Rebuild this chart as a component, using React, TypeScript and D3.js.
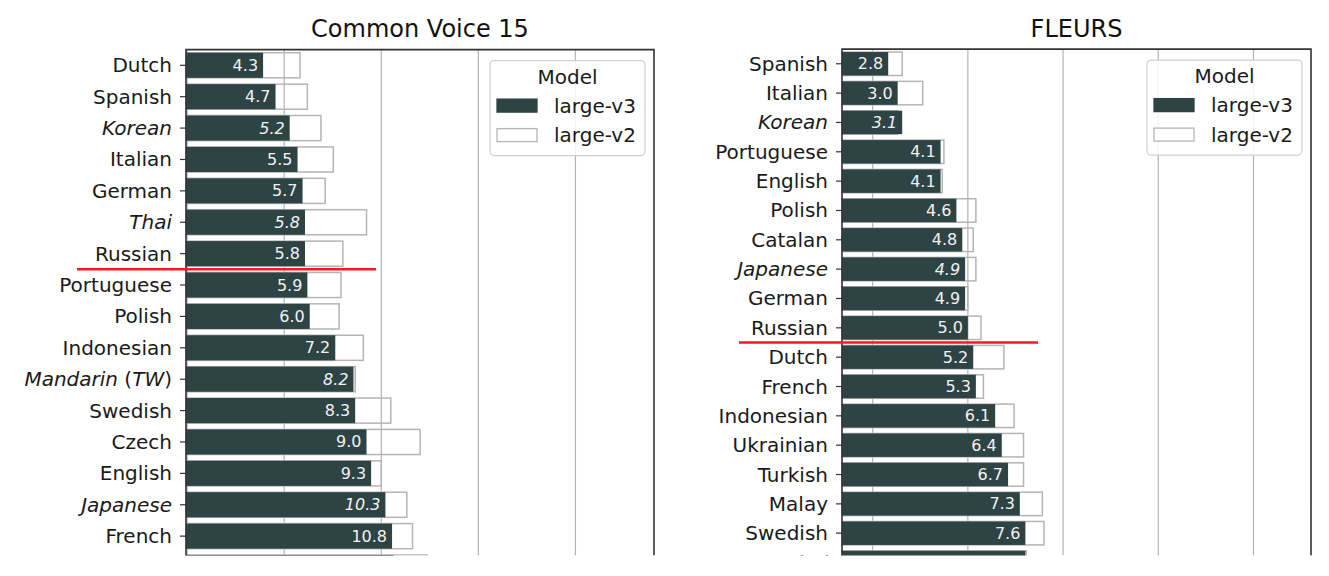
import React from 'react';
import * as d3 from 'd3';

// Common Voice 15 (sorted by large-v3 WER)
const cvLanguages = [
  'Dutch', 'Spanish', 'Korean', 'Italian', 'German', 'Thai', 'Russian', 'Portuguese', 'Polish',
  'Indonesian', 'Mandarin (TW)', 'Swedish', 'Czech', 'English', 'Japanese', 'French', 'Catalan',
];
const cvV3 = [4.3, 4.7, 5.2, 5.5, 5.7, 5.8, 5.8, 5.9, 6.0, 7.2, 8.2, 8.3, 9.0, 9.3, 10.3, 10.8, 10.9];
const cvV2 = [5.6, 5.9, 6.5, 7.1, 6.7, 9.0, 7.6, 7.5, 7.4, 8.8, 8.3, 10.7, 13.2, 10.0, 12.0, 12.5, 13.9];
const cvTicks = [2.5, 5, 10, 20, 40];

// FLEURS
const fleursLanguages = [
  'Spanish', 'Italian', 'Korean', 'Portuguese', 'English', 'Polish', 'Catalan', 'Japanese', 'German',
  'Russian', 'Dutch', 'French', 'Indonesian', 'Ukrainian', 'Turkish', 'Malay', 'Swedish', 'Thai',
];
const fleursV3 = [2.8, 3.0, 3.1, 4.1, 4.1, 4.6, 4.8, 4.9, 4.9, 5.0, 5.2, 5.3, 6.1, 6.4, 6.7, 7.3, 7.6, 7.6];
const fleursV2 = [3.1, 3.6, 3.0, 4.2, 4.15, 5.3, 5.2, 5.3, 5.0, 5.5, 6.5, 5.6, 7.0, 7.5, 7.5, 8.6, 8.7, 7.65];
const fleursTicks = [2.5, 5, 10, 20, 40];

const modelNames = ['large-v3', 'large-v2'];
const italicLangs = ['Korean', 'Thai', 'Japanese', 'Mandarin (TW)'];

const DARK = '#2e4444';
const FONT = '"DejaVu Sans", sans-serif';
const CUT = 555.5; // the figure is cropped here

interface PanelProps {
  title: string;
  langs: string[];
  v3: number[];
  v2: number[];
  ticks: number[];
  xDomain: [number, number];
  left: number;
  right: number;
  top: number;
  step: number;
  cutAfter: number; // red line after this row index
  redFrom: number;
  redTo: number;
}

function LangLabel({ name, x, y }: { name: string; x: number; y: number }) {
  const italic = italicLangs.includes(name);
  if (name === 'Mandarin (TW)') {
    return (
      <text x={x} y={y} textAnchor="end" dominantBaseline="central" fontSize={20} fill="#1a1a1a">
        <tspan fontStyle="italic">Mandarin</tspan>
        <tspan> (</tspan>
        <tspan fontStyle="italic">TW</tspan>
        <tspan>)</tspan>
      </text>
    );
  }
  return (
    <text x={x} y={y} textAnchor="end" dominantBaseline="central" fontSize={20} fill="#1a1a1a"
      fontStyle={italic ? 'italic' : 'normal'}>
      {name}
    </text>
  );
}

function Panel(p: PanelProps) {
  const xScale = d3.scaleLog().domain(p.xDomain).range([p.left, p.right]);
  const yScale = d3
    .scaleBand()
    .domain(p.langs)
    .range([p.top, p.top + p.step * p.langs.length])
    .paddingInner(0.2)
    .paddingOuter(0.1);
  const bw = yScale.bandwidth();
  const x0 = xScale(p.xDomain[0]);
  const redY = (yScale(p.langs[p.cutAfter]) as number) + bw + (yScale.step() - bw) / 2;
  const mid = (l: string) => (yScale(l) as number) + bw / 2;

  const legW = 155;
  const legH = 95;
  const legX = p.right - 9 - legW;
  const legY = p.top + 11;

  return (
    <g>
      <text x={(p.left + p.right) / 2} y={37} textAnchor="middle" fontSize={24} fill="#111">
        {p.title}
      </text>

      {p.ticks.map((t) => (
        <line key={t} x1={xScale(t)} x2={xScale(t)} y1={p.top} y2={CUT} stroke="#b3b3b3" strokeWidth={1.2} />
      ))}

      {p.langs.map((l, i) => (
        <rect key={'v2' + l} x={x0} y={yScale(l) as number} width={xScale(p.v2[i]) - x0} height={bw}
          fill="none" stroke="#b5b5b5" strokeWidth={1.5} />
      ))}
      {p.langs.map((l, i) => (
        <rect key={'v3' + l} x={x0} y={yScale(l) as number} width={xScale(p.v3[i]) - x0} height={bw} fill={DARK} />
      ))}
      {p.langs.filter((l) => mid(l) < CUT).map((l) => {
        const i = p.langs.indexOf(l);
        return (
          <text key={'val' + l} x={xScale(p.v3[i]) - 5} y={mid(l)} textAnchor="end" dominantBaseline="central"
            fontSize={16} fill="#f2f2f2" fontStyle={italicLangs.includes(l) ? 'italic' : 'normal'}>
            {d3.format('.1f')(p.v3[i])}
          </text>
        );
      })}

      {p.langs.map((l) => (
        <line key={'tk' + l} x1={p.left - 6} x2={p.left} y1={mid(l)} y2={mid(l)} stroke="#333" strokeWidth={1.2} />
      ))}
      {p.langs.filter((l) => mid(l) - 9 < CUT).map((l) => (
        <LangLabel key={'lb' + l} name={l} x={p.left - 14} y={mid(l)} />
      ))}

      <path d={`M${p.left},${CUT}V${p.top}H${p.right}V${CUT}`} fill="none" stroke="#333" strokeWidth={1.6} />

      <line x1={p.left + p.redFrom} x2={p.left + p.redTo} y1={redY} y2={redY} stroke="#ee1c1c" strokeWidth={2.5} />

      <g>
        <rect x={legX} y={legY} width={legW} height={legH} rx={4} fill="white" fillOpacity={0.85}
          stroke="#d0d0d0" strokeWidth={1.2} />
        <text x={legX + legW / 2} y={legY + 16} textAnchor="middle" dominantBaseline="central" fontSize={20} fill="#1a1a1a">
          Model
        </text>
        {modelNames.map((m, i) => {
          const cy = legY + 45 + i * 29.5;
          return (
            <g key={m}>
              <rect x={legX + 7} y={cy - 6.5} width={40} height={13}
                fill={i === 0 ? DARK : 'white'} stroke={i === 0 ? DARK : '#b5b5b5'} strokeWidth={1.3} />
              <text x={legX + 64} y={cy} dominantBaseline="central" fontSize={20} fill="#1a1a1a">{m}</text>
            </g>
          );
        })}
      </g>
    </g>
  );
}

export default function App() {
  return (
    <svg width={1329} height={576} style={{ position: 'absolute', left: 0, top: 0, background: 'white' }}
      fontFamily={FONT}>
      <defs>
        <clipPath id="cut">
          <rect x={0} y={0} width={1329} height={CUT} />
        </clipPath>
      </defs>
      <rect width={1329} height={576} fill="white" />
      <g clipPath="url(#cut)">
        <Panel title="Common Voice 15" langs={cvLanguages} v3={cvV3} v2={cvV2} ticks={cvTicks}
          xDomain={[2.48, 70.1]} left={186} right={654} top={49.6} step={31.39}
          cutAfter={6} redFrom={-109} redTo={190} />
        <Panel title="FLEURS" langs={fleursLanguages} v3={fleursV3} v2={fleursV2} ticks={fleursTicks}
          xDomain={[2.0, 60.8]} left={842} right={1311} top={49.1} step={29.34}
          cutAfter={9} redFrom={-103} redTo={196} />
      </g>
    </svg>
  );
}
